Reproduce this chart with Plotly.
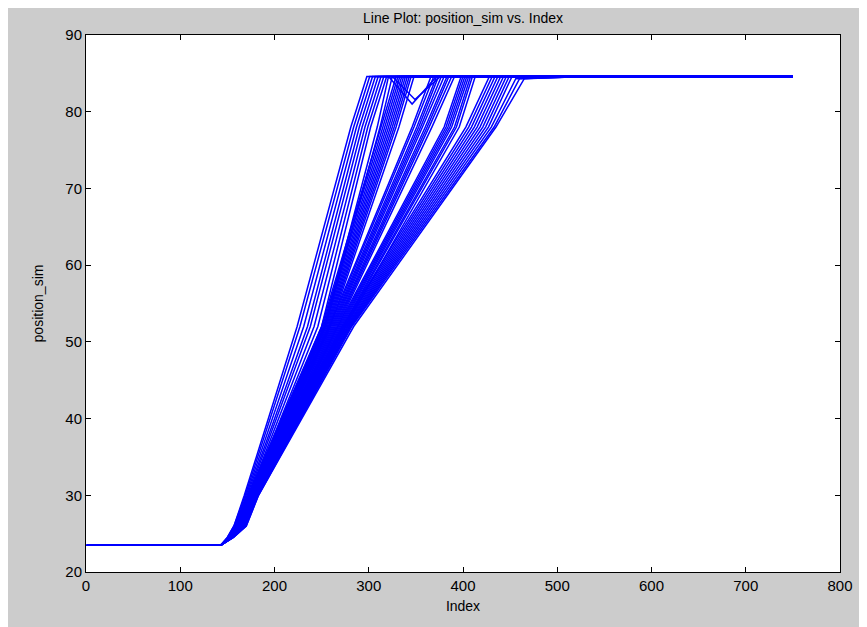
import plotly.graph_objects as go

# ---- data ----
index_first = 1
index_last = 750
start_value = 23.5      # flat initial position
final_value = 84.6      # flat final position
rise_start_index = 143  # where all runs leave the start value

# value levels at which each run's index position was read
level_values = [24.5, 26.0, 30.0, 52.0, 78.0]

# band 1 (leftmost, separate lines)
b1_x24 = [150, 150, 150.5, 150.5, 151, 151, 151.5, 151.5]
b1_x26 = [157, 157, 158, 158, 159, 159, 160, 160]
b1_x30 = [168, 169, 170, 171, 172, 173, 174, 175]
b1_x52 = [224, 227, 231, 235, 238, 242, 246, 250]
b1_x78 = [281, 284, 287, 290, 293, 296, 299, 302]
b1_top = [298, 301, 304, 307, 310, 313, 316, 319]

# band 2
b2_x24 = [151.5, 151.5, 152, 152, 152, 152.5, 152.5, 152.5, 153, 153]
b2_x26 = [160, 160, 161, 161, 161, 162, 162, 162, 163, 163]
b2_x30 = [172, 172.5, 173, 173.5, 174, 174.5, 175, 175.5, 176, 176.5]
b2_x52 = [250, 251, 252, 253, 254, 255, 256, 257, 258, 259]
b2_x78 = [313, 315, 317, 319, 321, 323, 325, 327, 329, 332]
b2_top = [329, 331, 333, 335, 337, 339, 341, 343, 345, 348]

# two runs of band 2 that overshoot and dip before settling
dip_x78 = [309, 312]
dip_top_index = [321, 325]
dip_low_index = [346, 349]
dip_low_value = [81.0, 81.6]
dip_settle_index = [372, 376]

# band 3
b3_x24 = [152.5, 152.5, 153, 153, 153, 153.5, 153.5, 153.5, 154, 154]
b3_x26 = [162, 162, 163, 163, 163, 164, 164, 164, 165, 165]
b3_x30 = [174, 174.5, 175, 175.5, 176, 176.5, 177, 177.5, 178, 178.5]
b3_x52 = [258, 259, 260, 261, 262, 263, 264, 265, 266, 267]
b3_x78 = [346, 348, 351, 353, 355, 357, 360, 362, 364, 367]
b3_top = [366, 369, 372, 374, 377, 380, 383, 385, 388, 391]

# band 4
b4_x24 = [153.5, 153.5, 154, 154, 154.5, 154.5, 155, 155]
b4_x26 = [164, 164, 165, 165, 166, 166, 167, 167]
b4_x30 = [176, 176.5, 177, 177.5, 178, 178.5, 179, 179.5]
b4_x52 = [267, 268, 269, 270, 271, 272, 273, 275]
b4_x78 = [380, 382, 384, 386, 388, 391, 393, 396]
b4_top = [398, 400, 402, 404, 406, 408, 410, 413]

# band 5 (rightmost, widest)
b5_x24 = [154.5, 154.5, 155, 155, 155, 155.5, 155.5, 155.5, 156, 156, 156.5, 156.5]
b5_x26 = [166, 166, 167, 167, 167, 168, 168, 168, 169, 169, 170, 170]
b5_x30 = [178, 178.5, 179, 179.5, 180, 180.5, 181, 181.5, 182, 182.5, 183, 183]
b5_x52 = [272, 273, 274, 275, 276, 277, 278, 279, 280, 281, 282, 284]
b5_x78 = [403, 406, 409, 412, 415, 418, 421, 424, 427, 430, 433, 435]
b5_top = [428, 431, 434, 437, 440, 443, 446, 449, 452, 456, 460, 465]

# slow final approach of the last runs
slow_near_value = 84.3
slow_settle_index = 530

x_ticks = [0, 100, 200, 300, 400, 500, 600, 700, 800]
y_ticks = [20, 30, 40, 50, 60, 70, 80, 90]

# ---- figure ----
fig = go.Figure()
BLUE = "#0000ff"
FONT = "Liberation Sans, Arial, sans-serif"


def add_run(xs, ys):
    fig.add_trace(go.Scatter(x=xs, y=ys, mode="lines",
                             line=dict(color=BLUE, width=1.5),
                             showlegend=False, hoverinfo="skip"))


bands = [
    (b1_x24, b1_x26, b1_x30, b1_x52, b1_x78, b1_top),
    (b2_x24, b2_x26, b2_x30, b2_x52, b2_x78, b2_top),
    (b3_x24, b3_x26, b3_x30, b3_x52, b3_x78, b3_top),
    (b4_x24, b4_x26, b4_x30, b4_x52, b4_x78, b4_top),
    (b5_x24, b5_x26, b5_x30, b5_x52, b5_x78, b5_top),
]

for bi, (a0, a, b, c, d, t) in enumerate(bands):
    n = len(a)
    for i in range(n):
        xs = [index_first, rise_start_index, a0[i], a[i], b[i], c[i], d[i], t[i]]
        ys = [start_value, start_value] + level_values + [final_value]
        if bi == 4 and i >= n - 3:
            ys[-1] = slow_near_value
            xs.append(slow_settle_index)
            ys.append(final_value)
        xs.append(index_last)
        ys.append(final_value)
        add_run(xs, ys)

# dipping runs (rise with band 2)
for k in range(len(dip_top_index)):
    i = 3 + k
    xs = [index_first, rise_start_index, b2_x24[i], b2_x26[i], b2_x30[i], b2_x52[i],
          dip_x78[k], dip_top_index[k], dip_low_index[k],
          dip_settle_index[k], index_last]
    ys = [start_value, start_value] + level_values + [final_value,
          dip_low_value[k], final_value, final_value]
    add_run(xs, ys)

axis_common = dict(
    showline=True, linecolor="black", linewidth=1, mirror="ticks",
    ticks="inside", ticklen=5, tickcolor="black", tickwidth=1,
    showgrid=False, zeroline=False,
    tickfont=dict(family=FONT, size=15, color="black"),
)

fig.update_layout(
    width=867, height=627,
    paper_bgcolor="#cccccc", plot_bgcolor="white",
    margin=dict(l=78, r=35, t=27, b=63),
    title=dict(text="Line Plot: position_sim vs. Index",
               x=0.5, xanchor="center", xref="paper", y=0.992, yanchor="top",
               font=dict(family=FONT, size=14, color="black")),
    xaxis=dict(range=[0, 800], tickvals=x_ticks, ticktext=[str(v) for v in x_ticks],
               title=dict(text="Index", standoff=8,
                          font=dict(family=FONT, size=14, color="black")),
               **axis_common),
    yaxis=dict(range=[20, 90], tickvals=y_ticks, ticktext=[str(v) for v in y_ticks],
               title=dict(text="position_sim", standoff=18,
                          font=dict(family=FONT, size=14, color="black")),
               **axis_common),
)

fig.write_html("out.html")
